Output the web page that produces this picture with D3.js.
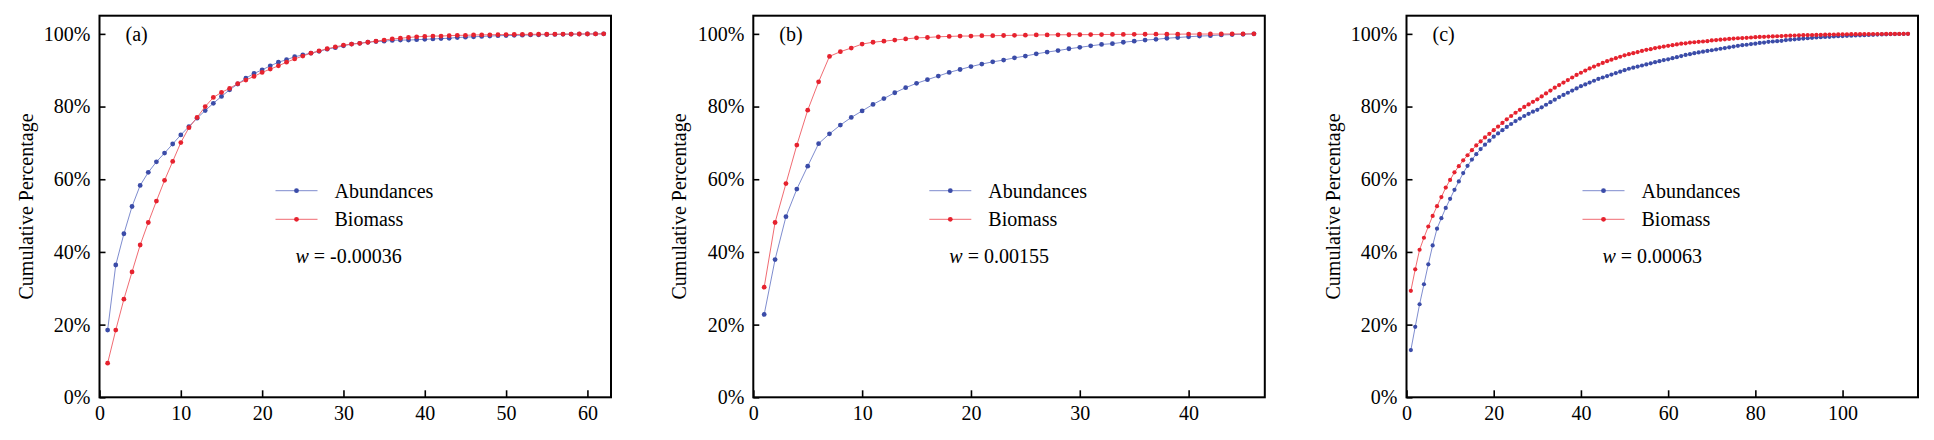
<!DOCTYPE html>
<html>
<head>
<meta charset="utf-8">
<script src="https://cdn.jsdelivr.net/npm/d3@7"></script>
<style>
  html, body { margin: 0; padding: 0; background: #fff; }
  svg text { font-family: "Liberation Serif", "Times New Roman", serif; fill: #000; }
  .axis text { font-size: 20px; }
  .axis line { stroke: #000; stroke-width: 1.6; }
</style>
</head>
<body>
<svg id="chart" width="1934" height="440"></svg>
<script>
// Cumulative percentage curves (ABC method).
const seriesNames = ["Abundances", "Biomass"];
const yTicks = [0, 20, 40, 60, 80, 100];

// (a)
const abundA = [18.5, 36.4, 45.0, 52.5, 58.3, 61.9, 64.8, 67.2, 69.7, 72.2,
  74.5, 76.8, 78.9, 80.9, 82.8, 84.6, 86.2, 87.8, 89.1, 90.1,
  91.2, 92.2, 92.9, 93.7, 94.2, 94.7, 95.2, 95.8, 96.2, 96.7,
  97.2, 97.4, 97.7, 97.9, 98.0, 98.2, 98.3, 98.3, 98.4, 98.5,
  98.6, 98.7, 98.8, 99.0, 99.1, 99.2, 99.3, 99.4, 99.5, 99.55,
  99.6, 99.65, 99.7, 99.75, 99.8, 99.84, 99.88, 99.91, 99.94, 99.96,
  99.98, 100];
const biomassA = [9.4, 18.5, 27.0, 34.5, 41.9, 48.1, 54.0, 59.7, 64.9, 70.1,
  74.2, 77.0, 80.0, 82.5, 83.9, 85.0, 86.3, 87.3, 88.3, 89.4,
  90.3, 91.2, 92.2, 93.1, 93.9, 94.7, 95.3, 95.9, 96.4, 96.9,
  97.2, 97.4, 97.7, 98.0, 98.3, 98.6, 98.8, 99.0, 99.2, 99.3,
  99.4, 99.4, 99.5, 99.6, 99.6, 99.7, 99.72, 99.75, 99.78, 99.8,
  99.83, 99.85, 99.87, 99.89, 99.9, 99.92, 99.94, 99.95, 99.97, 99.98,
  99.99, 100];
const xTicksA = [0, 10, 20, 30, 40, 50, 60];

// (b)
const abundB = [22.8, 37.9, 49.7, 57.3, 63.6, 69.8, 72.5, 74.9, 77.0, 78.8,
  80.6, 82.2, 83.8, 85.2, 86.4, 87.4, 88.4, 89.4, 90.2, 91.0,
  91.7, 92.3, 92.8, 93.4, 93.9, 94.5, 95.0, 95.4, 95.9, 96.3,
  96.7, 97.1, 97.3, 97.7, 98.0, 98.3, 98.5, 98.8, 99.0, 99.2,
  99.4, 99.5, 99.7, 99.8, 99.9, 100];
const biomassB = [30.3, 48.1, 58.8, 69.4, 79.0, 86.8, 93.8, 95.1, 96.1, 97.2,
  97.7, 98.0, 98.3, 98.6, 98.9, 99.0, 99.2, 99.3, 99.4, 99.4,
  99.5, 99.5, 99.55, 99.6, 99.65, 99.7, 99.72, 99.74, 99.76, 99.78,
  99.8, 99.82, 99.84, 99.86, 99.88, 99.9, 99.91, 99.92, 99.93, 99.94,
  99.95, 99.96, 99.97, 99.98, 99.99, 100];
const xTicksB = [0, 10, 20, 30, 40];

// (c)
const abundC = [13.0, 19.4, 25.6, 31.1, 36.6, 41.8, 46.4, 49.3, 52.1, 54.6,
  57.1, 59.4, 61.7, 63.7, 65.4, 66.9, 68.3, 69.5, 70.6, 71.7,
  72.6, 73.5, 74.4, 75.2, 76.0, 76.7, 77.4, 78.0, 78.6, 79.1,
  79.8, 80.5, 81.2, 81.9, 82.6, 83.2, 83.8, 84.4, 85.0, 85.6,
  86.1, 86.6, 87.1, 87.6, 88.0, 88.4, 88.8, 89.2, 89.6, 90.0,
  90.4, 90.7, 91.0, 91.3, 91.6, 91.9, 92.2, 92.5, 92.8, 93.0,
  93.3, 93.6, 93.9, 94.2, 94.4, 94.7, 94.9, 95.1, 95.3, 95.5,
  95.7, 95.9, 96.1, 96.3, 96.5, 96.7, 96.9, 97.0, 97.2, 97.3,
  97.5, 97.6, 97.8, 97.9, 98.0, 98.1, 98.3, 98.4, 98.5, 98.6,
  98.7, 98.8, 98.9, 99.0, 99.1, 99.15, 99.2, 99.3, 99.35, 99.4,
  99.45, 99.5, 99.55, 99.6, 99.65, 99.7, 99.75, 99.8, 99.84, 99.88,
  99.91, 99.94, 99.96, 99.98, 100];
const biomassC = [29.3, 35.2, 40.6, 43.9, 47.0, 49.9, 52.6, 55.1, 57.7, 59.8,
  61.9, 63.6, 65.2, 66.6, 68.0, 69.3, 70.4, 71.5, 72.5, 73.5,
  74.5, 75.5, 76.5, 77.4, 78.3, 79.1, 79.9, 80.6, 81.3, 82.0,
  82.8, 83.6, 84.4, 85.2, 85.9, 86.6, 87.3, 88.0, 88.7, 89.3,
  89.9, 90.5, 91.0, 91.5, 92.0, 92.5, 92.9, 93.3, 93.7, 94.1,
  94.4, 94.7, 95.0, 95.3, 95.6, 95.8, 96.1, 96.3, 96.5, 96.7,
  96.9, 97.1, 97.3, 97.4, 97.6, 97.7, 97.8, 97.9, 98.0, 98.2,
  98.3, 98.4, 98.5, 98.6, 98.7, 98.8, 98.85, 98.9, 99.0, 99.1,
  99.15, 99.2, 99.25, 99.3, 99.35, 99.4, 99.45, 99.5, 99.55, 99.6,
  99.63, 99.66, 99.69, 99.72, 99.75, 99.78, 99.8, 99.83, 99.86, 99.88,
  99.9, 99.91, 99.92, 99.93, 99.94, 99.95, 99.96, 99.97, 99.97, 99.98,
  99.98, 99.99, 99.99, 100, 100];
const xTicksC = [0, 20, 40, 60, 80, 100];

const panels = [
  { tag: "(a)", w: "-0.00036", abund: abundA, biomass: biomassA, xMax: 62.9, xTicks: xTicksA, left: 99.5, r: 2.4 },
  { tag: "(b)", w: "0.00155", abund: abundB, biomass: biomassB, xMax: 47.0, xTicks: xTicksB, left: 753.3, r: 2.4 },
  { tag: "(c)", w: "0.00063", abund: abundC, biomass: biomassC, xMax: 117.3, xTicks: xTicksC, left: 1406.5, r: 2.1 },
];

const colors = { Abundances: "#3b4ca8", Biomass: "#e6222e" };
const lineColors = { Abundances: "#6f7fc8", Biomass: "#ee5a62" };

const W = 511.5, TOP = 15.7, H = 381.6;
const svg = d3.select("#chart");

panels.forEach((p) => {
  const g = svg.append("g").attr("transform", `translate(${p.left},${TOP})`);
  const x = d3.scaleLinear().domain([0, p.xMax]).range([0, W]);
  const y = d3.scaleLinear().domain([0, 105]).range([H, 0]);

  // axes (ticks point inward)
  g.append("g")
    .attr("class", "axis")
    .call(d3.axisLeft(y).tickValues(yTicks).tickFormat((d) => d + "%")
      .tickSizeInner(-6).tickSizeOuter(0).tickPadding(9))
    .call((a) => a.select(".domain").remove());
  g.append("g")
    .attr("class", "axis")
    .attr("transform", `translate(0,${H})`)
    .call(d3.axisBottom(x).tickValues(p.xTicks).tickFormat(d3.format("d"))
      .tickSizeInner(-7).tickSizeOuter(0).tickPadding(9))
    .call((a) => a.select(".domain").remove());

  g.append("rect")
    .attr("width", W).attr("height", H)
    .attr("fill", "none").attr("stroke", "#000").attr("stroke-width", 2);

  // y label
  g.append("text")
    .attr("transform", `translate(-67,${H / 2}) rotate(-90)`)
    .attr("text-anchor", "middle")
    .style("font-size", "20px")
    .text("Cumulative Percentage");

  g.append("text")
    .attr("x", 26).attr("y", 41 - TOP + 0.5)
    .style("font-size", "20px")
    .text(p.tag);

  const line = d3.line().x((d) => x(d.k)).y((d) => y(d.v));
  seriesNames.forEach((name) => {
    const vals = name === "Abundances" ? p.abund : p.biomass;
    const pts = vals.map((v, i) => ({ k: i + 1, v }));
    g.append("path")
      .datum(pts)
      .attr("fill", "none")
      .attr("stroke", lineColors[name])
      .attr("stroke-width", 0.9)
      .attr("d", line);
    g.append("g")
      .selectAll("circle")
      .data(pts)
      .join("circle")
      .attr("cx", (d) => x(d.k))
      .attr("cy", (d) => y(d.v))
      .attr("r", p.r)
      .attr("fill", colors[name]);
  });

  // legend
  const leg = g.append("g").attr("transform", `translate(176,${190.7 - TOP})`);
  seriesNames.forEach((name, i) => {
    const row = leg.append("g").attr("transform", `translate(0,${i * 28.6})`);
    row.append("line")
      .attr("x1", 0).attr("x2", 42)
      .attr("stroke", lineColors[name]).attr("stroke-width", 0.9);
    row.append("circle").attr("cx", 21).attr("r", 2.4).attr("fill", colors[name]);
    row.append("text")
      .attr("x", 59).attr("y", 7)
      .style("font-size", "20px")
      .text(name);
  });

  const wt = g.append("text")
    .attr("x", 196).attr("y", 263 - TOP)
    .style("font-size", "20px");
  wt.append("tspan").style("font-style", "italic").text("w");
  wt.append("tspan").text(" = " + p.w);
});
</script>
</body>
</html>
